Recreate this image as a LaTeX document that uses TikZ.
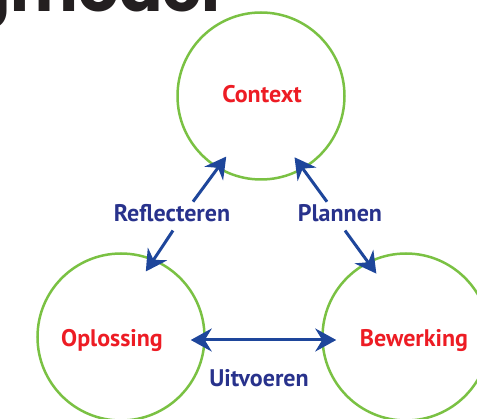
\documentclass[tikz,border=0pt]{standalone}
\usepackage{fontspec}
\setsansfont{PT Sans}
\newfontfamily\titlefont{Poppins}
\usetikzlibrary{arrows.meta}
\definecolor{ringgreen}{RGB}{122,193,67}
\definecolor{wordred}{RGB}{237,28,36}
\definecolor{arrowblue}{RGB}{30,70,155}
\definecolor{labelblue}{RGB}{40,50,140}
\definecolor{titleblack}{RGB}{35,31,32}

\begin{document}
\begin{tikzpicture}[x=1pt,y=-1pt,>={Stealth[length=21pt,width=23pt,inset=7pt]},
    ring/.style={circle,draw=ringgreen,line width=2.5pt,minimum size=167pt,inner sep=0pt},
    name node/.style={text=wordred,font=\sffamily\bfseries\fontsize{24}{24}\selectfont,anchor=base},
    step node/.style={text=labelblue,font=\sffamily\bfseries\fontsize{24}{24}\selectfont,anchor=base,inner sep=3pt},
    flow/.style={->,draw=arrowblue,line width=3pt,shorten >=-15pt}]

  \useasboundingbox (0,0) rectangle (477,419);
  \clip (0,0) rectangle (477,419);

  \node[font=\titlefont\bfseries\fontsize{64}{64}\selectfont,text=titleblack,anchor=base east,inner sep=0pt] (title) at (221,12) {gmodel};

  \node[ring] (context) at (261,96) {};
  \node[ring] (oplossing) at (121,337) {};
  \node[ring] (bewerking) at (406,337) {};

  \node[name node] (context-txt) at (262,103) {Context};
  \node[name node] (oplossing-txt) at (112,347) {Oplossing};
  \node[name node] (bewerking-txt) at (414,347) {Bewerking};

  \node[step node] (reflect) at (172,222) {Reflecteren};
  \node[step node] (plannen) at (340,222) {Plannen};
  \node[step node] (uitvoeren) at (259,387) {Uitvoeren};

  \draw[flow] ([xshift=21pt]reflect.north) -- (context.239);
  \draw[flow] ([xshift=1pt,yshift=-5pt]reflect.south) -- (oplossing.67);
  \draw[flow] ([xshift=-13pt]plannen.north) -- (context.300);
  \draw[flow] ([xshift=5pt,yshift=-5pt]plannen.south) -- (bewerking.117);
  \draw[flow,<->,shorten <=-15pt] ([yshift=-3pt]oplossing.east) -- ([yshift=-3pt]bewerking.west);
\end{tikzpicture}
\end{document}
